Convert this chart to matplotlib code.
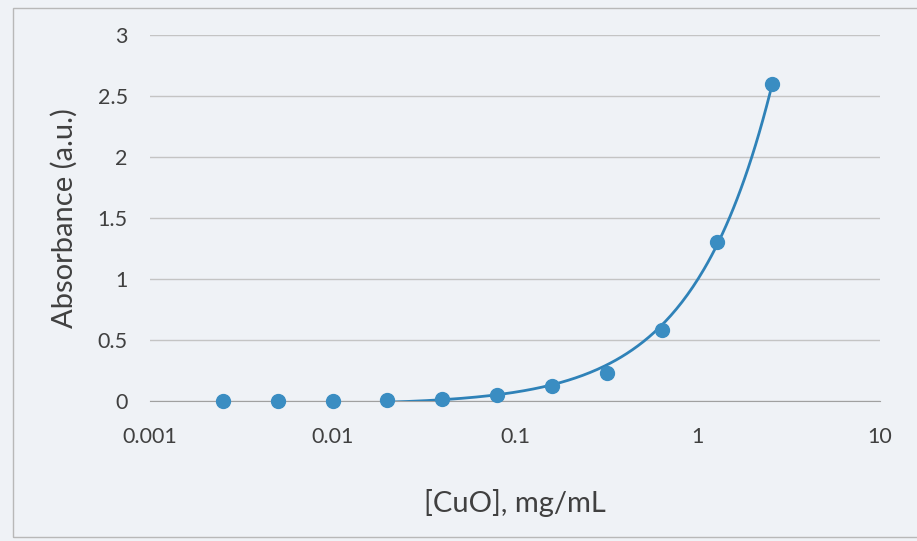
import numpy as np
import matplotlib.pyplot as plt
from matplotlib.patches import Rectangle

# 데이터
conc = [0.0025, 0.005, 0.01, 0.02, 0.04, 0.08, 0.16, 0.32, 0.64, 1.28, 2.56]
absorb = [0.0, 0.0, 0.0, 0.005, 0.02, 0.05, 0.12, 0.23, 0.58, 1.30, 2.60]
x_ticks = [0.001, 0.01, 0.1, 1, 10]
x_tick_labels = ['0.001', '0.01', '0.1', '1', '10']
y_ticks = [0, 0.5, 1, 1.5, 2, 2.5, 3]
y_tick_labels = ['0', '0.5', '1', '1.5', '2', '2.5', '3']

plt.rcParams['font.family'] = ['Lato', 'DejaVu Sans']

bg = '#eff2f6'
text_col = '#404040'
blue = '#2f82b8'

fig = plt.figure(figsize=(9.17, 5.41), dpi=100, facecolor=bg)
ax = fig.add_axes([150 / 917, 1 - 401 / 541, 730 / 917, 366 / 541])
ax.set_facecolor(bg)

# 선형 추세선
slope, icpt = np.polyfit(conc, absorb, 1)
xs = np.logspace(np.log10(conc[0]), np.log10(conc[-1]), 300)
ax.plot(xs, slope * xs + icpt, color=blue, lw=2, zorder=3)

ax.scatter(conc, absorb, s=100, color='#3a8dc2', zorder=4, clip_on=False)

ax.set_xscale('log')
ax.set_xlim(0.001, 10)
ax.set_ylim(0, 3)
ax.set_xticks(x_ticks)
ax.set_xticklabels(x_tick_labels)
ax.minorticks_off()
ax.set_yticks(y_ticks)
ax.set_yticklabels(y_tick_labels)

ax.grid(axis='y', color='#c4c4c4', lw=1)
ax.set_axisbelow(True)
for s in ['top', 'right', 'left']:
    ax.spines[s].set_visible(False)
ax.spines['bottom'].set_color('#a0a0a0')
ax.tick_params(axis='both', length=0, labelsize=15.5, colors=text_col)
ax.tick_params(axis='x', pad=19)
ax.tick_params(axis='y', pad=16)

ax.set_xlabel('[CuO], mg/mL', fontsize=21, color=text_col, labelpad=30)
ax.set_ylabel('Absorbance (a.u.)', fontsize=21, color=text_col, labelpad=14)

# 차트 테두리
fig.patches.append(Rectangle((13 / 917, 4 / 541), 0.99, 1 - 12 / 541,
                             transform=fig.transFigure, fill=False,
                             ec='#b8b8b8', lw=1))

fig.savefig('out.png', dpi=100, facecolor=bg)
